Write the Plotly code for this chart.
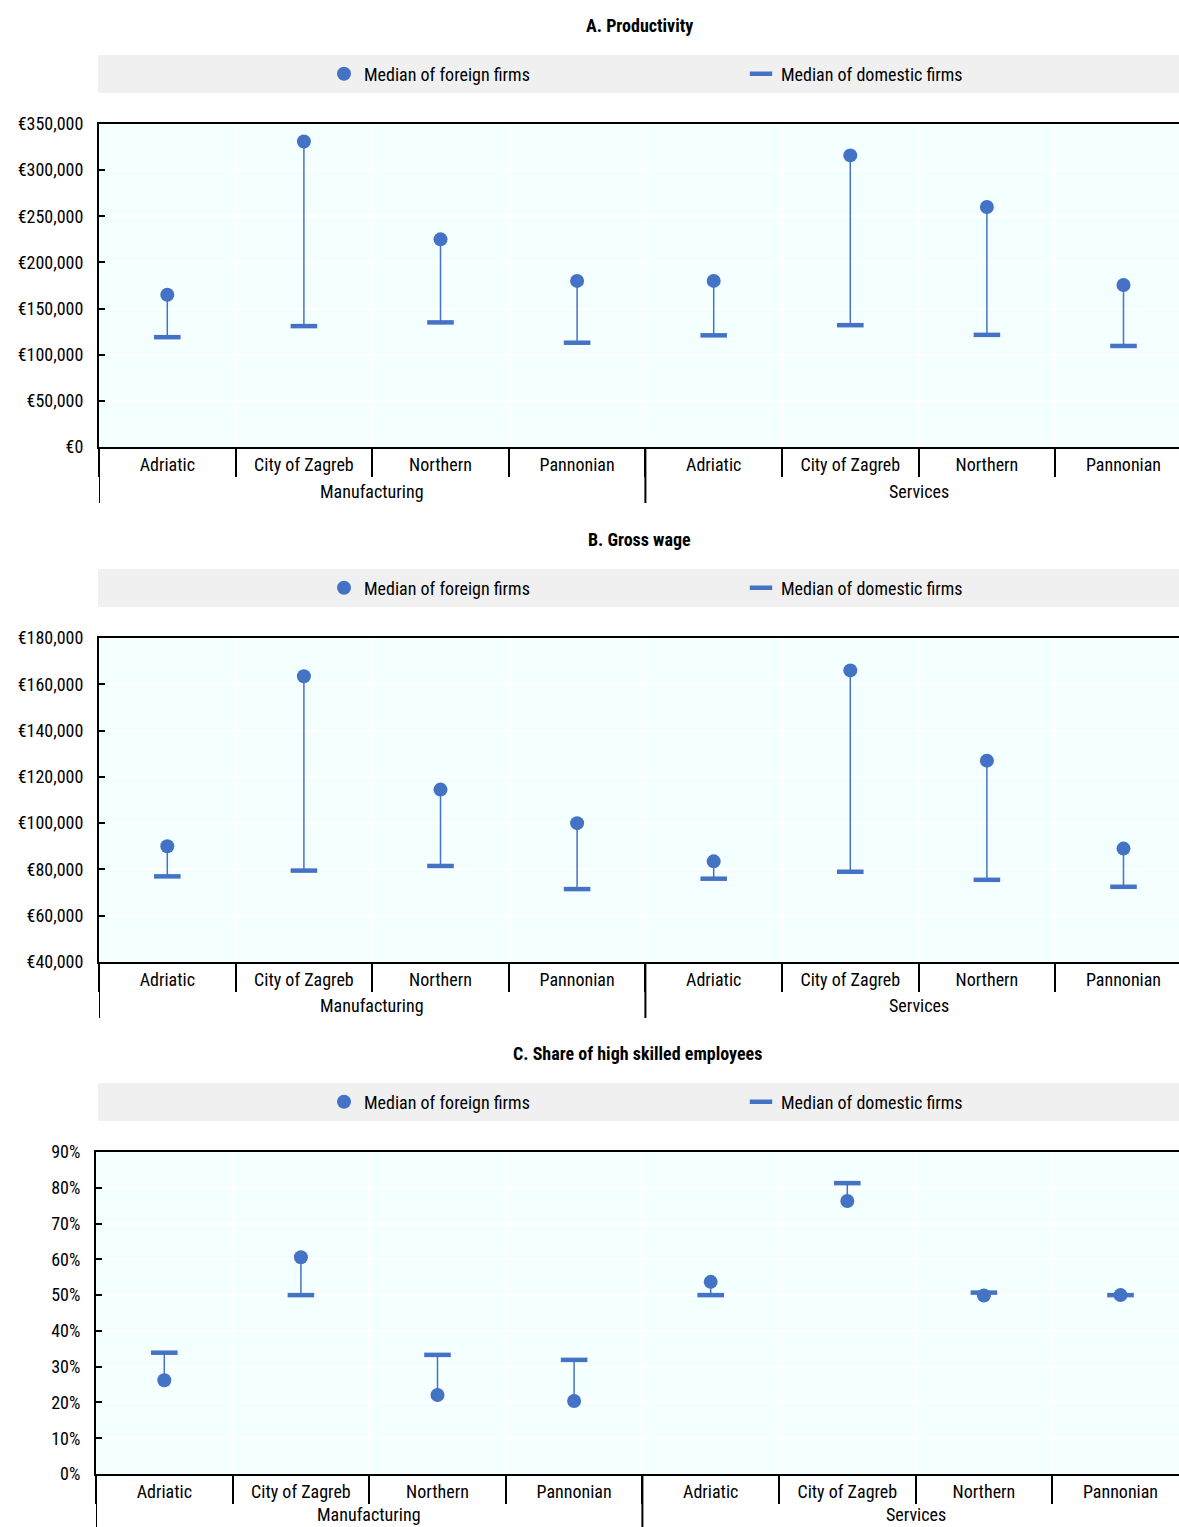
import plotly.graph_objects as go

W, H = 1179, 1527
BLUE = "#4472C4"
FONT = "Roboto Condensed, Roboto, Liberation Sans, sans-serif"
FS = 18

regions = ["Adriatic", "City of Zagreb", "Northern", "Pannonian"]
sectors = ["Manufacturing", "Services"]

prod_foreign = [165000, 331000, 225000, 180000, 180000, 316000, 260000, 175500]
prod_domestic = [119000, 131000, 135000, 113000, 121000, 132000, 121500, 109500]
wage_foreign = [90000, 163500, 114500, 100000, 83500, 166000, 127000, 89000]
wage_domestic = [77000, 79500, 81500, 71500, 76000, 79000, 75500, 72500]
skill_foreign = [26.2, 60.6, 22.1, 20.4, 53.7, 76.3, 49.9, 50.0]
skill_domestic = [33.9, 50.0, 33.3, 31.9, 50.0, 81.3, 50.7, 50.0]

CAT_W = 136.6  # px per category; the chart is cut off at the right edge


def py(p):
    return 1 - p / H


def px(p):
    return p / W


panels = [
    dict(title="A. Productivity", foreign=prod_foreign, domestic=prod_domestic,
         yrange=[0, 350000], dtick=50000, prefix="€", suffix="", fmt=",",
         top=124, bottom=447, left=99, grp=44),
    dict(title="B. Gross wage", foreign=wage_foreign, domestic=wage_domestic,
         yrange=[40000, 180000], dtick=20000, prefix="€", suffix="", fmt=",",
         top=638, bottom=962, left=99, grp=44),
    dict(title="C. Share of high skilled employees", foreign=skill_foreign,
         domestic=skill_domestic, yrange=[0, 90], dtick=10, prefix="", suffix="%",
         fmt="d", top=1152, bottom=1474, left=96, grp=40),
]

fig = go.Figure()
annotations = []
shapes = []
xpos = list(range(len(regions) * len(sectors)))
ticktext = regions * len(sectors)

for k, p in enumerate(panels):
    n = "" if k == 0 else str(k + 1)
    xa, ya = "x" + n, "y" + n
    leg = "legend" + n
    xmax = -0.5 + (W - p["left"]) / CAT_W

    # connector lines
    lx, ly = [], []
    for i in xpos:
        lx += [i, i, None]
        ly += [p["domestic"][i], p["foreign"][i], None]
    fig.add_trace(go.Scatter(x=lx, y=ly, mode="lines", xaxis=xa, yaxis=ya,
                             line=dict(color=BLUE, width=1.5), showlegend=False,
                             hoverinfo="skip"))
    fig.add_trace(go.Scatter(x=xpos, y=p["domestic"], mode="markers", xaxis=xa, yaxis=ya,
                             name="Median of domestic firms", legend=leg, legendrank=2,
                             marker=dict(symbol="line-ew", size=19,
                                         line=dict(color=BLUE, width=4.5))))
    fig.add_trace(go.Scatter(x=xpos, y=p["foreign"], mode="markers", xaxis=xa, yaxis=ya,
                             name="Median of foreign firms", legend=leg, legendrank=1,
                             marker=dict(symbol="circle", size=14, color=BLUE)))

    fig.update_layout({
        "xaxis" + n: dict(
            domain=[px(p["left"]), 1], anchor=ya, range=[-0.5, xmax],
            tickmode="array", tickvals=xpos, ticktext=ticktext, ticks="",
            showgrid=False, zeroline=False, showline=True, linecolor="black",
            linewidth=2, mirror=True, tickfont=dict(size=FS, color="black"),
            minor=dict(tickmode="array", tickvals=[i - 0.5 for i in range(9)],
                       ticks="outside", ticklen=28, tickwidth=2, tickcolor="black",
                       showgrid=True, gridcolor="white", gridwidth=2),
            automargin=False, fixedrange=True,
        ),
        "yaxis" + n: dict(
            domain=[py(p["bottom"]), py(p["top"])], anchor=xa, range=p["yrange"],
            dtick=p["dtick"], tickprefix=p["prefix"], ticksuffix=p["suffix"],
            tickformat=p["fmt"], ticks="inside", ticklen=6, tickwidth=1.5,
            tickcolor="black", showline=True, linecolor="black", linewidth=2,
            showgrid=True, gridcolor="white", gridwidth=2, zeroline=False,
            ticklabelstandoff=10, automargin=False,
            tickfont=dict(size=FS, color="black"), fixedrange=True,
        ),
        leg: dict(
            orientation="h", x=px(324), y=py(p["top"] - 50), xanchor="left",
            yanchor="middle", bgcolor="rgba(0,0,0,0)", entrywidth=372,
            font=dict(size=FS, color="black"), traceorder="normal",
        ),
    })

    # title
    annotations.append(dict(text="<b>" + p["title"] + "</b>", x=px((p["left"] + W) / 2),
                            y=py(p["top"] - 99), xref="paper", yref="paper",
                            showarrow=False, font=dict(size=FS, color="black"),
                            xanchor="center", yanchor="middle"))
    # legend band
    shapes.append(dict(type="rect", xref="paper", yref="paper", x0=px(98), x1=1,
                       y0=py(p["top"] - 31), y1=py(p["top"] - 69),
                       fillcolor="#F0F0F0", line=dict(width=0), layer="below"))
    # plot background
    shapes.append(dict(type="rect", xref=xa + " domain", yref=ya + " domain",
                       x0=0, x1=1, y0=0, y1=1, fillcolor="#F4FFFF",
                       line=dict(width=0), layer="below"))
    # sector labels and dividers
    for s, sector in enumerate(sectors):
        annotations.append(dict(text=sector, x=s * 4 + 1.5, xref=xa,
                                y=py(p["bottom"] + p["grp"]), yref="paper",
                                showarrow=False, xanchor="center", yanchor="middle",
                                font=dict(size=FS, color="black")))
        shapes.append(dict(type="line", xref=xa, yref="paper", x0=s * 4 - 0.5,
                           x1=s * 4 - 0.5, y0=py(p["bottom"]), y1=py(p["bottom"] + 56),
                           line=dict(color="black", width=2)))

fig.update_layout(
    width=W, height=H, autosize=False,
    margin=dict(l=0, r=0, t=0, b=0, autoexpand=False),
    paper_bgcolor="white", plot_bgcolor="rgba(0,0,0,0)",
    font=dict(family=FONT, size=FS, color="black"),
    annotations=annotations, shapes=shapes,
)

fig.write_html(
    "out.html",
    config={"displayModeBar": False},
    post_script="document.body.style.margin='0';document.body.style.overflow='hidden';",
)
